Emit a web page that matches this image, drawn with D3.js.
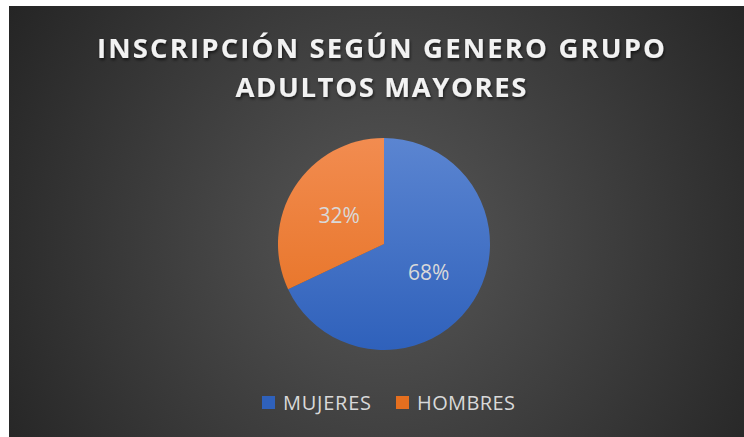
<!DOCTYPE html>
<html>
<head>
<meta charset="utf-8">
<script src="https://cdn.jsdelivr.net/npm/d3@7"></script>
<style>
  body { margin: 0; background: #fff; }
  svg { display: block; }
</style>
</head>
<body>
<svg id="chart" width="744" height="437"></svg>
<script>
const categories = ["MUJERES", "HOMBRES"];
const values = [68, 32];
const labels = ["68%", "32%"];
const titleLines = ["INSCRIPCIÓN SEGÚN GENERO GRUPO", "ADULTOS MAYORES"];

const colors = {
  MUJERES: ["#5b85d1", "#2f61bb"],
  HOMBRES: ["#f28c50", "#e56f1f"]
};

const svg = d3.select("#chart");
const defs = svg.append("defs");

// background gradient
const bg = defs.append("radialGradient")
  .attr("id", "bg")
  .attr("gradientUnits", "userSpaceOnUse")
  .attr("cx", 384).attr("cy", 240).attr("r", 440);
bg.append("stop").attr("offset", "0%").attr("stop-color", "#575757");
bg.append("stop").attr("offset", "100%").attr("stop-color", "#252525");

svg.append("rect")
  .attr("x", 9).attr("y", 6)
  .attr("width", 735).attr("height", 431)
  .attr("fill", "url(#bg)");

const shadow = defs.append("filter").attr("id", "shadow")
  .attr("x", "-10%").attr("y", "-20%").attr("width", "120%").attr("height", "140%");
shadow.append("feDropShadow")
  .attr("dx", 1).attr("dy", 2).attr("stdDeviation", 1.5)
  .attr("flood-color", "#000").attr("flood-opacity", 0.6);

// stretch a text to a given width with letter-spacing, keeping its left/center
function fitWidth(t, target, anchorX, centered) {
  const w = t.node().getComputedTextLength();
  const n = t.text().length;
  const ls = (target - w) / (n - 1);
  t.style("letter-spacing", ls + "px");
  if (centered) t.attr("x", anchorX + ls / 2);
}

// title
const titleBase = [58, 97];
const titleWidth = [568, 291];
titleLines.forEach((line, i) => {
  const t = svg.append("text")
    .attr("x", 381)
    .attr("y", titleBase[i])
    .attr("text-anchor", "middle")
    .style("font-family", "'Open Sans', sans-serif")
    .style("font-weight", 700)
    .style("font-size", "27.5px")
    .attr("fill", "#f2f2f2")
    .attr("filter", "url(#shadow)")
    .text(line);
  fitWidth(t, titleWidth[i], 381, true);
});

// pie
const cx = 384, cy = 244, radius = 106;
const pie = d3.pie().sort(null).value(d => d.value);
const arc = d3.arc().innerRadius(0).outerRadius(radius);
const data = categories.map((c, i) => ({ name: c, value: values[i], label: labels[i] }));

categories.forEach(c => {
  const g = defs.append("linearGradient")
    .attr("id", "grad-" + c)
    .attr("gradientUnits", "userSpaceOnUse")
    .attr("x1", 0).attr("y1", -radius).attr("x2", 0).attr("y2", radius);
  g.append("stop").attr("offset", "0%").attr("stop-color", colors[c][0]);
  g.append("stop").attr("offset", "100%").attr("stop-color", colors[c][1]);
});

const pg = svg.append("g").attr("transform", `translate(${cx},${cy})`);
const arcs = pie(data);

pg.selectAll("path")
  .data(arcs)
  .enter()
  .append("path")
  .attr("d", arc)
  .attr("fill", d => `url(#grad-${d.data.name})`);

const labelArc = d3.arc().innerRadius(radius * 0.5).outerRadius(radius * 0.5);
pg.selectAll("text.lbl")
  .data(arcs)
  .enter()
  .append("text")
  .attr("class", "lbl")
  .attr("transform", d => `translate(${labelArc.centroid(d)})`)
  .attr("dy", "0.36em")
  .attr("text-anchor", "middle")
  .style("font-family", "'Open Sans', sans-serif")
  .style("font-size", "21px")
  .attr("fill", "#d9d9d9")
  .text(d => d.data.label);

// legend
const legendX = [262, 396];
const legendWidth = [88, 98];
const legend = svg.append("g");
categories.forEach((c, i) => {
  legend.append("rect")
    .attr("x", legendX[i]).attr("y", 396)
    .attr("width", 13).attr("height", 13)
    .attr("fill", colors[c][1]);
  const t = legend.append("text")
    .attr("x", legendX[i] + 21).attr("y", 410)
    .style("font-family", "'Open Sans', sans-serif")
    .style("font-size", "20px")
    .attr("fill", "#d9d9d9")
    .text(c);
  fitWidth(t, legendWidth[i], legendX[i] + 21, false);
});
</script>
</body>
</html>
